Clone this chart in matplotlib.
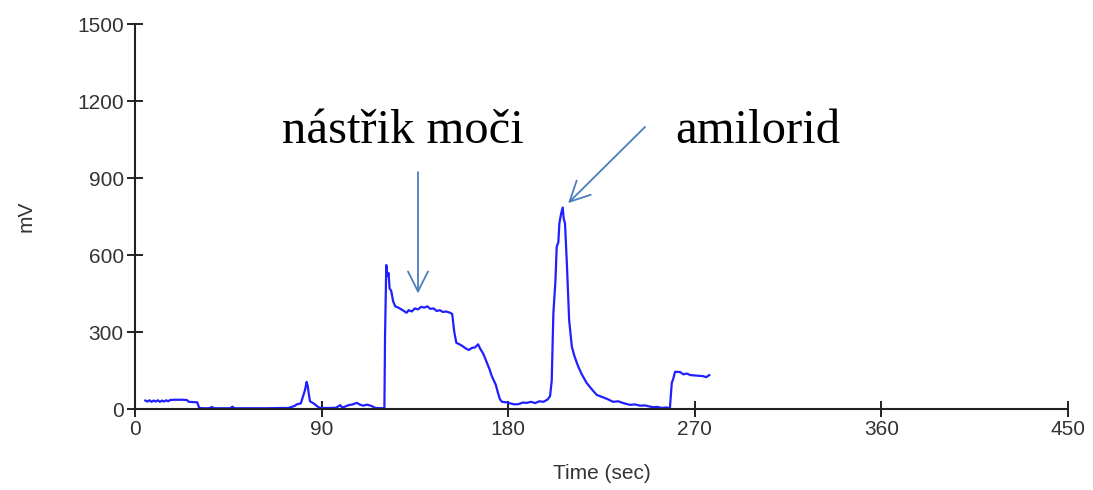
import matplotlib
matplotlib.use("Agg")
import matplotlib.pyplot as plt

# Recorded electrode signal (time in s, potential in mV)
time_s = [
    5, 6, 7, 8, 9, 10, 11, 12, 13, 14, 15, 16, 17, 19, 21, 23, 25, 26, 28, 30, 31,
    33, 36, 37, 38, 40, 44, 46, 47, 48, 52, 58, 64, 70, 74, 77,
    78, 79, 80, 81, 82, 82.8, 83.3, 83.8, 84.4, 85.5, 86.5, 88, 89,
    91, 94, 97, 99, 100, 103, 105, 107, 108.5, 110, 112, 114, 116, 119, 120.3,
    120.6, 121.2, 121.8, 122.3, 122.8, 123.6, 124.5, 125.5, 127, 128.5, 130, 131,
    132, 133.5, 135, 136.5, 138, 139.5, 141, 142.5, 144, 145.5, 147, 148.5, 150,
    152, 153, 154, 155, 156.5, 158, 159.5, 161, 162.5, 164, 165.5, 166.5, 168,
    169, 170, 171, 172, 173, 174, 175, 176, 177, 179, 181, 183, 185, 187, 189,
    191, 193, 195, 197, 199, 200.2,
    201, 201.8, 202.8, 203.4, 204.2, 204.7, 205.5, 206.3, 206.8, 207.4, 208.3,
    209.4, 210.7, 212, 213.8, 215.5, 217.9, 220, 222.7, 225, 227.5, 230.6, 233,
    236, 238.8, 241, 243.6, 246, 248, 250, 252, 254, 256, 258,
    258.9, 259.7, 260.5, 262.9, 264.5, 266.1, 268, 271, 274, 275.5, 277,
]
signal_mv = [
    33, 29, 34, 28, 33, 29, 34, 28, 33, 29, 34, 30, 35, 36, 36, 36, 35, 28, 27, 26, 4,
    3, 3, 8, 3, 3, 3, 3, 9, 3, 3, 3, 3, 4, 4, 12,
    18, 20, 22, 48, 74, 106, 90, 61, 30, 25, 20, 10, 5,
    4, 4, 5, 15, 5, 15, 18, 24, 17, 13, 17, 12, 4, 3, 3,
    280, 561, 520, 530, 470, 460, 420, 400, 395, 388, 380, 375,
    385, 380, 392, 388, 398, 395, 400, 390, 392, 382, 385, 378, 380,
    375, 370, 300, 258, 252, 245, 236, 230, 238, 240, 252, 235, 215,
    195, 175, 155, 130, 112, 95, 65, 38, 28, 26, 22, 18, 19, 25, 24,
    28, 23, 30, 28, 37, 50,
    110, 374, 500, 632, 650, 724, 760, 785, 740, 724, 568,
    347, 243, 205, 165, 135, 101, 80, 55, 48, 40, 28, 30,
    22, 16, 18, 13, 14, 10, 7, 8, 4, 6, 4,
    101, 120, 145, 144, 135, 138, 132, 130, 128, 124, 132,
]

x_ticks = [0, 90, 180, 270, 360, 450]
y_ticks = [0, 300, 600, 900, 1200, 1500]

fig = plt.figure(figsize=(10.93, 4.90), dpi=100)
ax = fig.add_axes([0.1235, 0.1653, 0.8536, 0.7857])

ax.plot(time_s, signal_mv, color="#1f1fff", lw=1.6)

ax.set_xlim(0, 450)
ax.set_ylim(0, 1500)
ax.set_xticks(x_ticks)
ax.set_yticks(y_ticks)

for side in ("top", "right"):
    ax.spines[side].set_visible(False)
for side in ("left", "bottom"):
    ax.spines[side].set_linewidth(1.5)
    ax.spines[side].set_color("#222222")

ax.tick_params(direction="inout", length=12, width=1.4, color="#222222",
               labelsize=15, labelcolor="#333333", pad=2)
for lab in ax.get_xticklabels() + ax.get_yticklabels():
    lab.set_family("Liberation Sans")

ax.set_xlabel("Time (sec)", family="Liberation Sans", fontsize=15,
              color="#333333", labelpad=18)
ax.set_ylabel("mV", family="Liberation Sans", fontsize=15,
              color="#333333", labelpad=30)

# Annotations marking the urine injection and amiloride addition
arrow_color = "#4a7ebb"
arrow_props = dict(arrowstyle="->,head_length=0.9,head_width=0.45",
                   color=arrow_color, lw=1.3, mutation_scale=16,
                   shrinkA=0, shrinkB=0)
ax.annotate("", xy=(136.5, 450), xytext=(136.5, 923), arrowprops=arrow_props)
ax.annotate("", xy=(208.9, 802), xytext=(246, 1099), arrowprops=arrow_props)

ax.text(129.3, 1036, "nástřik moči", family="Liberation Serif", fontsize=35,
        ha="center", va="baseline", color="black")
ax.text(300.5, 1036, "amilorid", family="Liberation Serif", fontsize=35,
        ha="center", va="baseline", color="black")

fig.savefig("out.png", dpi=100)
